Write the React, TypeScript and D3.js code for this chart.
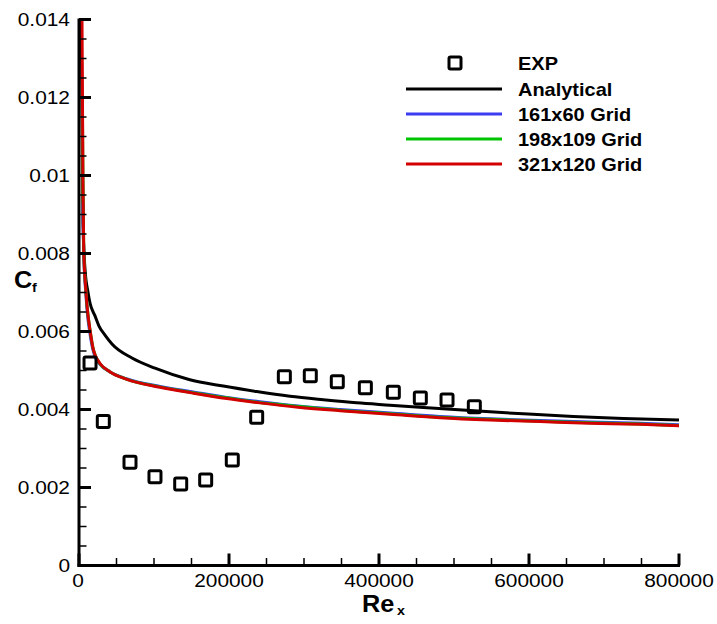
import React from "react";
import * as d3 from "d3";

const expRe = [14700, 32400, 68000, 101300, 135600, 168900, 204400, 236900, 273800, 308400, 344400, 381800, 419100, 455100, 490700, 527100];
const expCf = [0.00519, 0.00369, 0.002646, 0.002277, 0.00209, 0.00219, 0.002705, 0.0038, 0.00484, 0.004867, 0.004713, 0.00456, 0.00444, 0.004295, 0.004244, 0.00407];

const anaRe = [3000, 5300, 8000, 12000, 14667, 21333, 26667, 34667, 44000, 70667, 101333, 146667, 192400, 236900, 281300, 325700, 370300, 414700, 459100, 548000, 592400, 659100, 725700, 800000];
const anaCf = [0.014, 0.0088, 0.0076, 0.00701, 0.00673, 0.0064, 0.00614, 0.00591, 0.00568, 0.00532, 0.00506, 0.00477, 0.0046, 0.00446, 0.00434, 0.00425, 0.00417, 0.00411, 0.00405, 0.00394, 0.00389, 0.00382, 0.00377, 0.00373];

const g161Re = [5000, 6300, 9000, 11000, 15000, 19000, 21500, 28000, 41000, 63000, 108000, 152000, 197000, 241000, 292000, 348000, 415000, 481000, 548000, 615000, 681000, 748000, 800000];
const g161Cf = [0.0093, 0.008, 0.007, 0.0065, 0.0059, 0.0055, 0.00535, 0.00516, 0.00497, 0.00479, 0.00459, 0.00445, 0.00431, 0.0042, 0.00409, 0.004, 0.00391, 0.00382, 0.00376, 0.00372, 0.00368, 0.00365, 0.00361];

const g198Re = [4400, 5300, 6300, 9000, 11000, 15000, 19000, 21500, 28000, 41000, 63000, 108000, 152000, 197000, 241000, 292000, 348000, 415000, 481000, 548000, 615000, 681000, 748000, 800000];
const g198Cf = [0.0121, 0.0098, 0.0081, 0.0071, 0.0066, 0.006, 0.00555, 0.0054, 0.00517, 0.00497, 0.00478, 0.00458, 0.00443, 0.0043, 0.00418, 0.00408, 0.00398, 0.00389, 0.0038, 0.00375, 0.0037, 0.00366, 0.00363, 0.00359];

const g321Re = [4000, 5300, 6300, 9000, 11000, 15000, 19000, 21500, 28000, 41000, 63000, 108000, 152000, 197000, 241000, 292000, 348000, 415000, 481000, 548000, 615000, 681000, 748000, 800000];
const g321Cf = [0.014, 0.0098, 0.0081, 0.0071, 0.0066, 0.006, 0.00555, 0.0054, 0.00518, 0.00497, 0.00478, 0.00457, 0.00442, 0.00428, 0.00417, 0.00406, 0.00397, 0.00388, 0.00379, 0.00373, 0.00369, 0.00365, 0.00362, 0.00358];

const xTicks = [0, 200000, 400000, 600000, 800000];
const yTicks = [0, 0.002, 0.004, 0.006, 0.008, 0.01, 0.012, 0.014];
const yTickLabels = ["0", "0.002", "0.004", "0.006", "0.008", "0.01", "0.012", "0.014"];

const seriesNames = ["Analytical", "161x60 Grid", "198x109 Grid", "321x120 Grid"];
const seriesColors = ["#000000", "#3c3cf0", "#00c400", "#d20000"];

export default function App() {
  const x = d3.scaleLinear().domain([0, 800000]).range([79, 679]);
  const y = d3.scaleLinear().domain([0, 0.014]).range([565.5, 19.5]);
  const line = d3
    .line<[number, number]>()
    .x((d) => x(d[0]))
    .y((d) => y(d[1]))
    .curve(d3.curveMonotoneX);

  const series = [
    d3.zip(anaRe, anaCf) as [number, number][],
    d3.zip(g161Re, g161Cf) as [number, number][],
    d3.zip(g198Re, g198Cf) as [number, number][],
    d3.zip(g321Re, g321Cf) as [number, number][],
  ];

  const xMinor = d3.range(0, 800001, 50000).filter((v) => v % 200000 !== 0);
  const yMinor = d3.range(0, 14.0001, 0.5).map((v) => v / 1000).filter((v) => Math.round(v * 10000) % 20 !== 0);

  const tickFont = { fontFamily: "'Liberation Sans', Arial, sans-serif", fontSize: 18.5 };
  const boldFont = { fontFamily: "'Liberation Sans', Arial, sans-serif", fontWeight: 700 };

  const legendRows = [63, 89, 114, 139, 164];

  return (
    <svg width={717} height={624} style={{ position: "absolute", left: 0, top: 0, display: "block", background: "#fff" }}>
      <rect x={0} y={0} width={717} height={624} fill="#fff" />
      {series.map((s, i) => (
        <path key={i} d={line(s) || ""} fill="none" stroke={seriesColors[i]} strokeWidth={3} strokeLinejoin="round" />
      ))}
      {expRe.map((r, i) => (
        <rect key={i} x={x(r) - 6} y={y(expCf[i]) - 6} width={12} height={12} rx={1.5} fill="none" stroke="#000" strokeWidth={3} />
      ))}
      <line x1={79} x2={79} y1={y(0.014) - 1} y2={567} stroke="#000" strokeWidth={3} />
      <line x1={77.5} x2={680} y1={565.5} y2={565.5} stroke="#000" strokeWidth={3} />
      {xTicks.map((t) => (
        <line key={t} x1={x(t)} x2={x(t)} y1={565.5} y2={553.5} stroke="#000" strokeWidth={3} />
      ))}
      {xMinor.map((t) => (
        <line key={t} x1={x(t)} x2={x(t)} y1={565.5} y2={558} stroke="#000" strokeWidth={1.5} />
      ))}
      {yTicks.map((t) => (
        <line key={t} x1={79} x2={91} y1={y(t)} y2={y(t)} stroke="#000" strokeWidth={3} />
      ))}
      {yMinor.map((t) => (
        <line key={t} x1={79} x2={86.5} y1={y(t)} y2={y(t)} stroke="#000" strokeWidth={1.5} />
      ))}
      {xTicks.map((t) => (
        <text key={t} transform={`translate(${x(t) - (t === 0 ? 1 : 0)},587) scale(1.13,1)`} textAnchor="middle" {...tickFont}>
          {String(t)}
        </text>
      ))}
      {yTicks.map((t, i) => (
        <text key={t} transform={`translate(70,${y(t) + 6.6}) scale(1.13,1)`} textAnchor="end" {...tickFont}>
          {yTickLabels[i]}
        </text>
      ))}
      <text transform="translate(14,288) scale(1.1,1)" fontSize={23} {...boldFont}>C</text>
      <text transform="translate(32,292) scale(1.1,1)" fontSize={13} {...boldFont}>f</text>
      <text transform="translate(362,612) scale(1.1,1)" fontSize={23} {...boldFont}>Re</text>
      <text transform="translate(397,615) scale(1.1,1)" fontSize={13} {...boldFont}>x</text>
      <rect x={449} y={legendRows[0] - 6} width={12} height={12} rx={1.5} fill="none" stroke="#000" strokeWidth={3} />
      <text transform={`translate(518,${legendRows[0] + 6.5}) scale(1.11,1)`} fontSize={18} {...boldFont}>EXP</text>
      {seriesNames.map((n, i) => (
        <g key={n}>
          <line x1={406} x2={502} y1={legendRows[i + 1]} y2={legendRows[i + 1]} stroke={seriesColors[i]} strokeWidth={3} />
          <text transform={`translate(518,${legendRows[i + 1] + 6.5}) scale(1.11,1)`} fontSize={18} {...boldFont}>
            {n}
          </text>
        </g>
      ))}
    </svg>
  );
}
